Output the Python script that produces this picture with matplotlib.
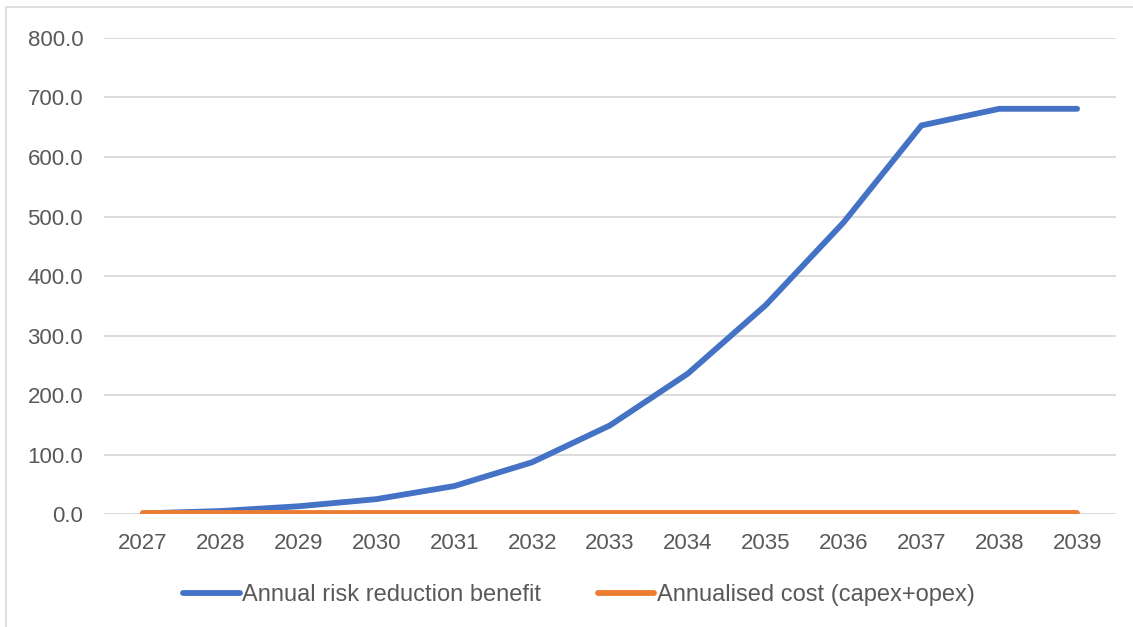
import matplotlib.pyplot as plt
from matplotlib.patches import Rectangle

years = ['2027', '2028', '2029', '2030', '2031', '2032', '2033',
         '2034', '2035', '2036', '2037', '2038', '2039']
benefit = [1, 5, 13, 25, 47, 87, 149, 236, 351, 490, 653, 681, 681]
cost = [2, 2, 2, 2, 2, 2, 2, 2, 2, 2, 2, 2, 2]
yticks = [0, 100, 200, 300, 400, 500, 600, 700, 800]

plt.rcParams['font.family'] = ['Liberation Sans', 'DejaVu Sans']

fig = plt.figure(figsize=(11.33, 6.27), dpi=100)
ax = fig.add_axes([0.0918, 0.1802, 0.8932, 0.7592])

# light frame around the chart area (right/bottom run off the image)
fig.patches.append(Rectangle((6 / 1133, -0.05), 1.2, 1 - 7 / 627 + 0.05,
                             transform=fig.transFigure, fill=False,
                             edgecolor='#D9D9D9', linewidth=1.2))

x = range(len(years))
ax.plot(x, benefit, color='#4472C4', linewidth=4.2, solid_capstyle='round',
        label='Annual risk reduction benefit')
ax.plot(x, cost, color='#ED7D31', linewidth=4.2, solid_capstyle='round',
        label='Annualised cost (capex+opex)')

ax.set_xlim(-0.5, len(years) - 0.5)
ax.set_ylim(0, 800)
ax.set_xticks(list(x))
ax.set_xticklabels(years)
ax.set_yticks(yticks)
ax.set_yticklabels([f'{v:.1f}' for v in yticks])
ax.tick_params(axis='both', length=0, labelsize=16, colors='#595959')
ax.tick_params(axis='x', pad=14)
ax.tick_params(axis='y', pad=15)
ax.grid(axis='y', color='#D9D9D9', linewidth=1.3)
ax.set_axisbelow(True)
for s in ax.spines.values():
    s.set_visible(False)

ax.legend(loc='center', bbox_to_anchor=(0.469, -0.17), ncol=2, frameon=False,
          fontsize=17, handlelength=2.4, handletextpad=0.1, columnspacing=2.4,
          labelcolor='#595959')

plt.savefig('out.png', dpi=100)
plt.close()
